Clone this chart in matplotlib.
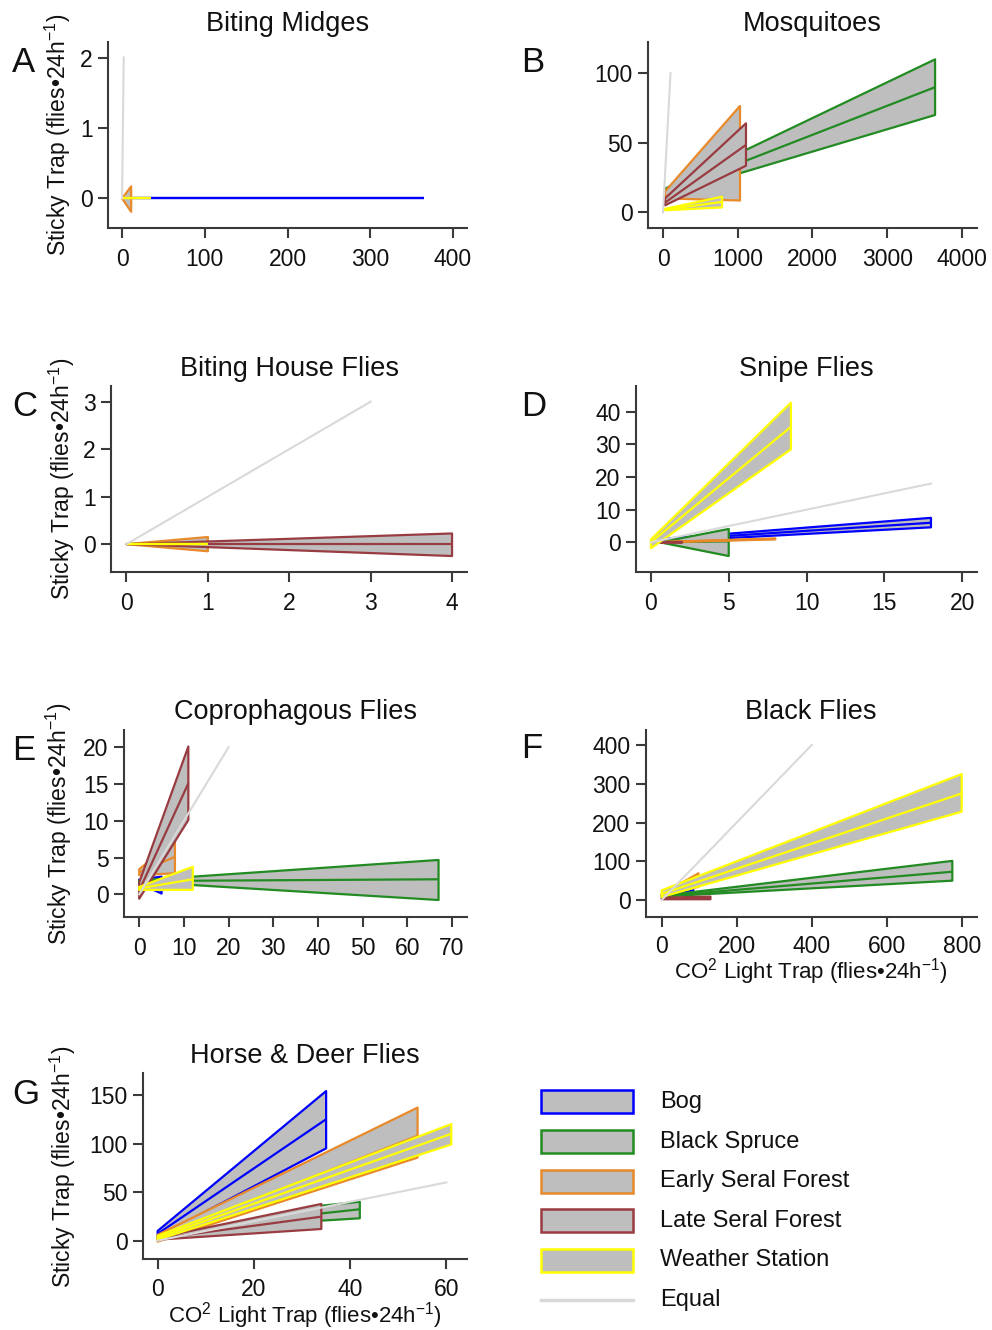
import numpy as np
import matplotlib
matplotlib.use('Agg')
import matplotlib.pyplot as plt
from matplotlib.patches import Rectangle

plt.rcParams['font.family'] = ['Liberation Sans', 'DejaVu Sans']
plt.rcParams['mathtext.fontset'] = 'custom'
plt.rcParams['mathtext.rm'] = 'Liberation Sans'
plt.rcParams['mathtext.it'] = 'Liberation Sans:italic'
plt.rcParams['mathtext.bf'] = 'Liberation Sans:bold'

# ---------------- data ----------------
habitats = ['Bog', 'Black Spruce', 'Early Seral Forest', 'Late Seral Forest', 'Weather Station']
habitat_colors = ['#0000FF', '#228B22', '#E8892A', '#993C42', '#FFFF00']
band_fill = '#BEBEBE'
equal_color = '#D9D9D9'

panel_letters = ['A', 'B', 'C', 'D', 'E', 'F', 'G']
panel_titles = ['Biting Midges', 'Mosquitoes', 'Biting House Flies', 'Snipe Flies',
                'Coprophagous Flies', 'Black Flies', 'Horse & Deer Flies']
equal_max = [2, 100, 3, 18, 20, 400, 60]

x_ticks = [[0, 100, 200, 300, 400], [0, 1000, 2000, 3000, 4000], [0, 1, 2, 3, 4],
           [0, 5, 10, 15, 20], [0, 10, 20, 30, 40, 50, 60, 70], [0, 200, 400, 600, 800],
           [0, 20, 40, 60]]
y_ticks = [[0, 1, 2], [0, 50, 100], [0, 1, 2, 3], [0, 10, 20, 30, 40],
           [0, 5, 10, 15, 20], [0, 100, 200, 300, 400], [0, 50, 100, 150]]

# per habitat (Bog, Black Spruce, Early Seral, Late Seral, Weather Station):
# x range (start, end), lower / fit / upper values at (start, end)
A_x = [(0, 365), None, (0, 11), None, (0, 35)]
A_lower = [(0, 0), None, (0, -0.19), None, (0, 0)]
A_fit = [(0, 0), None, (0, 0), None, (0, 0)]
A_upper = [(0, 0), None, (0, 0.17), None, (0, 0)]

B_x = [None, (27, 3640), (27, 1030), (27, 1110), (27, 790)]
B_lower = [None, (12, 70), (10, 8.5), (5, 33.5), (1.5, 3.5)]
B_fit = [None, (14.5, 90), (11, 42), (7, 48.5), (2, 7.5)]
B_upper = [None, (17, 110), (15, 76.5), (10, 64), (2.5, 11.2)]

C_x = [None, None, (0, 1), (0, 4), (0, 1)]
C_lower = [None, None, (0, -0.15), (0, -0.25), (0, 0)]
C_fit = [None, None, (0, 0), (0, 0), (0, 0)]
C_upper = [None, None, (0, 0.15), (0, 0.225), (0, 0)]

D_x = [(0.58, 18), (0.58, 5), (0.58, 8), (0.58, 2), (0, 9)]
D_lower = [(0.2, 4.6), (0, -4.2), (0, 0.9), (0, -0.1), (-1.8, 28.5)]
D_fit = [(0.6, 6), (0, 0.3), (0.05, 1.05), (0, 0), (0, 35.4)]
D_upper = [(1.0, 7.5), (0, 4.1), (0.1, 1.2), (0, 0.1), (0.9, 42.8)]

E_x = [(0, 5), (0, 67), (0, 8), (0, 11), (0, 12)]
E_lower = [(1.5, 0.1), (1.7, -0.78), (2.6, 2.86), (-0.6, 10.1), (0.6, 0.6)]
E_fit = [(1.7, 1.3), (1.8, 2.04), (3.0, 5.1), (0.5, 15.1), (0.8, 2.04)]
E_upper = [(2.0, 2.4), (1.9, 4.67), (3.4, 7.4), (1.6, 20.1), (1.0, 3.75)]

F_x = [(0, 84), (0, 775), (0, 98), (0, 130), (0, 800)]
F_lower = [(11, 17), (9, 50), (11, 34), (2, 2), (8, 228)]
F_fit = [(12, 24), (10, 73), (13, 50), (4, 5), (16, 275)]
F_upper = [(13, 31), (11, 101), (15, 69), (6, 9), (25, 325)]

G_x = [(0, 35), (33, 42), (0, 54), (0, 34), (0, 61)]
G_lower = [(4, 95), (20.3, 23), (-1, 85.5), (1, 12), (1, 99)]
G_fit = [(7, 125), (27.5, 32.3), (3, 108), (2, 24.7), (3, 110)]
G_upper = [(10, 154), (35.5, 40), (6, 137), (3, 37.8), (5, 120)]

# ---------------- layout (pixels) ----------------
W, H = 992, 1330
fig = plt.figure(figsize=(W / 100, H / 100), dpi=100)

def fx(p):
    return p / W

def fy(p):
    return 1 - p / H

# left, right, top, bottom in pixels
boxes = [(108, 467, 42, 228), (647.7, 976.7, 41.7, 228.3),
         (111, 466.7, 386, 571.7), (635.7, 976.7, 386, 571.7),
         (124, 466.7, 730, 916.7), (645.7, 976.7, 730, 916.7),
         (142.7, 466.7, 1073.3, 1259.3)]
xlims = [(-17, 417), (-205, 4197), (-0.19, 4.18), (-0.98, 20.94), (-3.4, 73.3),
         (-42.7, 840), (-3.1, 64.2)]
ylims = [(-0.42, 2.22), (-11.5, 122.7), (-0.58, 3.33), (-9.0, 47.9), (-3.05, 22.35),
         (-43, 438.7), (-19.2, 172.3)]
title_pos = [(287.5, 24), (812, 24), (289, 369), (806, 369), (295, 712), (811, 712), (305, 1056)]
letter_pos = [(23.5, 62), (533, 62), (25, 406), (534, 406), (24, 750), (532, 749), (26, 1095)]
ylabel_x = [58, None, 61.5, None, 58.5, None, 63]
xlabel_y = [None, None, None, None, None, 972, 1316]

panel_data = [(A_x, A_lower, A_fit, A_upper), (B_x, B_lower, B_fit, B_upper),
              (C_x, C_lower, C_fit, C_upper), (D_x, D_lower, D_fit, D_upper),
              (E_x, E_lower, E_fit, E_upper), (F_x, F_lower, F_fit, F_upper),
              (G_x, G_lower, G_fit, G_upper)]

spine_color = '#3a3a3a'
tick_fs = 16.5
ylab = 'Sticky Trap (flies\u202224h$^{-1}$)'
xlab = 'CO$^{2}$ Light Trap (flies\u202224h$^{-1}$)'

for i in range(7):
    l, r, t, b = boxes[i]
    ax = fig.add_axes([fx(l), fy(b), (r - l) / W, (b - t) / H])
    xs_all, lo_all, fit_all, up_all = panel_data[i]
    for h in range(5):
        if xs_all[h] is None:
            continue
        x0, x1 = xs_all[h]
        lo, fit, up = lo_all[h], fit_all[h], up_all[h]
        ax.fill([x0, x1, x1, x0], [lo[0], lo[1], up[1], up[0]],
                facecolor=band_fill, edgecolor=habitat_colors[h], linewidth=1.6,
                joinstyle='round', zorder=2 + h)
        ax.plot([x0, x1], list(fit), color=habitat_colors[h], linewidth=1.6,
                solid_capstyle='butt', zorder=2 + h)
    ax.plot([0, equal_max[i]], [0, equal_max[i]], color=equal_color, linewidth=1.5, zorder=10)

    ax.set_xlim(*xlims[i])
    ax.set_ylim(*ylims[i])
    ax.set_xticks(x_ticks[i])
    ax.set_yticks(y_ticks[i])
    for s in ['top', 'right']:
        ax.spines[s].set_visible(False)
    for s in ['left', 'bottom']:
        ax.spines[s].set_color(spine_color)
        ax.spines[s].set_linewidth(1.5)
    ax.tick_params(axis='both', direction='out', length=7, width=1.5,
                   color=spine_color, labelsize=tick_fs, labelcolor='#111111')
    ax.tick_params(axis='x', pad=7.5 if xlabel_y[i] is None else 6.5)
    ax.tick_params(axis='y', pad=4)
    ax.patch.set_alpha(0)

    fig.text(fx(title_pos[i][0]), fy(title_pos[i][1]), panel_titles[i], fontsize=19.5,
             ha='center', va='center', color='#111111')
    fig.text(fx(letter_pos[i][0]), fy(letter_pos[i][1]), panel_letters[i], fontsize=25,
             ha='center', va='center', color='#111111')
    if ylabel_x[i] is not None:
        fig.text(fx(ylabel_x[i]), fy((t + b) / 2), ylab, fontsize=16.5, rotation=90,
                 ha='center', va='center', color='#111111')
    if xlabel_y[i] is not None:
        fig.text(fx((l + r) / 2), fy(xlabel_y[i]), xlab, fontsize=16,
                 ha='center', va='center', color='#111111')

# ---------------- legend ----------------
lax = fig.add_axes([fx(520), fy(1330), (992 - 520) / W, (1330 - 1070) / H])
lax.set_xlim(520, 992)
lax.set_ylim(1330, 1070)
lax.axis('off')
row_y = [1102, 1142, 1181.5, 1221, 1260.5, 1300]
for k in range(5):
    lax.add_patch(Rectangle((541, row_y[k] - 11.5), 91.5, 23, facecolor=band_fill,
                            edgecolor=habitat_colors[k], linewidth=1.8))
    lax.text(660.5, row_y[k], habitats[k], fontsize=17, ha='left', va='center', color='#111111')
lax.plot([541, 632.5], [row_y[5], row_y[5]], color=equal_color, linewidth=2.5)
lax.text(660.5, row_y[5], 'Equal', fontsize=17, ha='left', va='center', color='#111111')

fig.savefig('out.png', dpi=100)
